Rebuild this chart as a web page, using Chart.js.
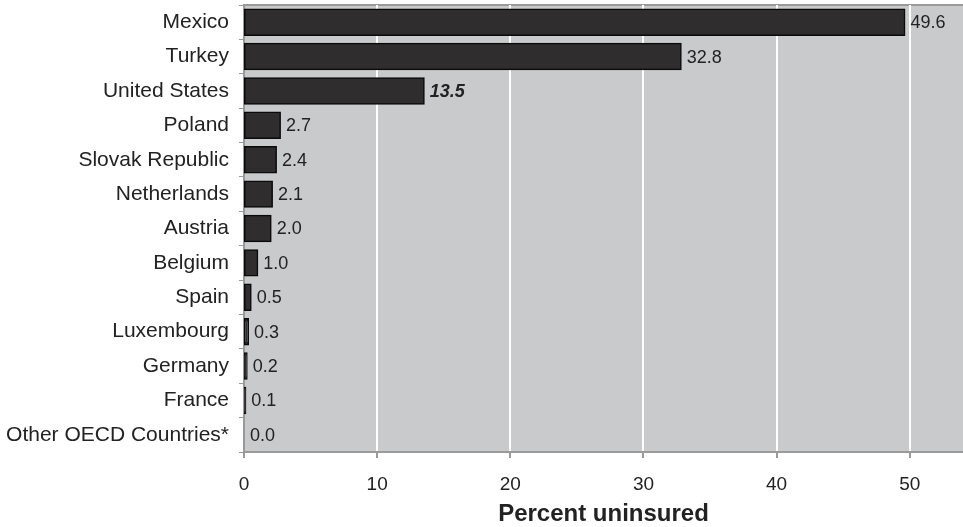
<!DOCTYPE html>
<html>
<head>
<meta charset="utf-8">
<script src="https://cdn.jsdelivr.net/npm/chart.js@4/dist/chart.umd.min.js"></script>
<style>
    body { margin: 0; background: #fff; }
    canvas { display: block; }
</style>
</head>
<body>
<canvas id="myChart" width="963" height="527"></canvas>
<script>
const countries = [
    'Mexico',
    'Turkey',
    'United States',
    'Poland',
    'Slovak Republic',
    'Netherlands',
    'Austria',
    'Belgium',
    'Spain',
    'Luxembourg',
    'Germany',
    'France',
    'Other OECD Countries*'
];

const uninsured = [49.6, 32.8, 13.5, 2.7, 2.4, 2.1, 2.0, 1.0, 0.5, 0.3, 0.2, 0.1, 0.0];

const xTicks = [0, 10, 20, 30, 40, 50];

const highlight = 'United States';

Chart.defaults.font.family = '"Liberation Sans", Arial, sans-serif';
Chart.defaults.color = '#222';

// gray plot background plus the thin top border
const plotBg = {
    id: 'plotBg',
    beforeDraw(chart) {
        const { ctx, chartArea: a } = chart;
        ctx.save();
        ctx.fillStyle = '#c9cacc';
        ctx.fillRect(a.left, a.top, a.right - a.left, a.bottom - a.top);
        ctx.strokeStyle = '#9a9a9a';
        ctx.lineWidth = 2;
        ctx.beginPath();
        ctx.moveTo(a.left, a.top);
        ctx.lineTo(a.right, a.top);
        ctx.stroke();
        ctx.restore();
    }
};

// numbers at the end of each bar
const barValues = {
    id: 'barValues',
    afterDatasetsDraw(chart) {
        const { ctx } = chart;
        const meta = chart.getDatasetMeta(0);
        ctx.save();
        ctx.fillStyle = '#222';
        ctx.textBaseline = 'middle';
        ctx.textAlign = 'left';
        meta.data.forEach((bar, i) => {
            const strong = countries[i] === highlight;
            ctx.font = (strong ? 'italic bold ' : '') + '18px "Liberation Sans", Arial, sans-serif';
            ctx.fillText(uninsured[i].toFixed(1), bar.x + 6, bar.y + 1);
        });
        ctx.restore();
    }
};

let config = {
    type: 'bar',
    data: {
        labels: countries,
        datasets: [{
            data: uninsured,
            backgroundColor: '#2f2d2e',
            borderColor: '#0a0a0a',
            borderWidth: 1.5,
            borderSkipped: false,
            inflateAmount: 1,
            barPercentage: 0.74,
            categoryPercentage: 1.0
        }]
    },
    options: {
        indexAxis: 'y',
        responsive: false,
        animation: false,
        layout: { padding: { top: 5, right: 0, bottom: 0, left: 0 } },
        plugins: {
            legend: { display: false },
            tooltip: { enabled: false }
        },
        scales: {
            x: {
                min: 0,
                max: 54,
                afterBuildTicks(axis) {
                    axis.ticks = xTicks.map(v => ({ value: v }));
                },
                afterFit(axis) {
                    axis.height = 75;
                    axis.paddingLeft = 0;
                    axis.paddingRight = 0;
                },
                grid: {
                    color: '#ffffff',
                    lineWidth: 2,
                    tickColor: '#9a9a9a',
                    tickLength: 6
                },
                border: { color: '#9a9a9a', width: 2 },
                ticks: {
                    font: { size: 19 },
                    color: '#222',
                    padding: 15
                },
                title: {
                    display: true,
                    text: 'Percent uninsured',
                    font: { size: 24, weight: 'bold' },
                    color: '#222',
                    padding: { top: 0, bottom: -2 }
                }
            },
            y: {
                afterFit(axis) {
                    axis.width = 244;
                    axis.paddingTop = 0;
                    axis.paddingBottom = 0;
                },
                grid: {
                    drawOnChartArea: false,
                    tickColor: '#9a9a9a',
                    tickLength: 5
                },
                border: { color: '#9a9a9a', width: 2 },
                ticks: {
                    font: { size: 21 },
                    color: '#222',
                    padding: 10
                }
            }
        }
    },
    plugins: [plotBg, barValues]
};

let myChart = new Chart(
    document.getElementById('myChart'),
    config
);
</script>
</body>
</html>
